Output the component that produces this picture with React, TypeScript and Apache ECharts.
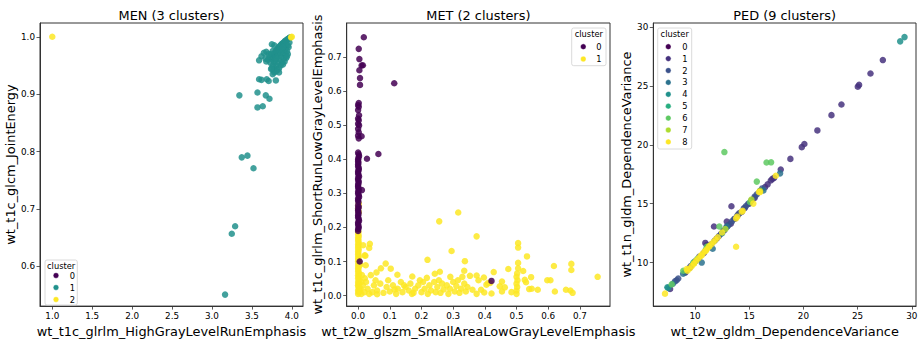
import React, { useEffect, useRef } from "react";
import * as echarts from "echarts";

// ---------------- DATA ----------------
// MEN panel: [HighGrayLevelRunEmphasis, JointEnergy]
const menCluster0: number[][] = [];
const menCluster1: number[][] = [
  [3.98, 0.999], [3.97, 0.998], [3.96, 0.997], [3.95, 0.996], [3.94, 0.995], [3.93, 0.994], [3.92, 0.993],
  [3.91, 0.992], [3.9, 0.99], [3.89, 0.989], [3.88, 0.988], [3.87, 0.987], [3.86, 0.985], [3.85, 0.984],
  [3.84, 0.982], [3.83, 0.98], [3.82, 0.979], [3.81, 0.977], [3.8, 0.975], [3.79, 0.973], [3.78, 0.97],
  [3.77, 0.968], [3.76, 0.965], [3.75, 0.962], [3.97, 0.99], [3.95, 0.985], [3.93, 0.98], [3.91, 0.975],
  [3.89, 0.97], [3.87, 0.965], [3.85, 0.96], [3.83, 0.955], [3.81, 0.95], [3.79, 0.945], [3.96, 0.982],
  [3.94, 0.975], [3.92, 0.968], [3.9, 0.962], [3.88, 0.955], [3.86, 0.95], [3.84, 0.945], [3.95, 0.97],
  [3.93, 0.963], [3.91, 0.957], [3.89, 0.952], [3.9, 0.985], [3.88, 0.98], [3.86, 0.975], [3.84, 0.97],
  [3.82, 0.965], [3.8, 0.96], [3.78, 0.955], [3.76, 0.95], [3.92, 0.987], [3.89, 0.982], [3.85, 0.978],
  [3.82, 0.972], [3.79, 0.966], [3.77, 0.958], [3.76, 0.975], [3.74, 0.97], [3.78, 0.985], [3.75, 0.987],
  [3.72, 0.965], [3.7, 0.96], [3.73, 0.955], [3.71, 0.97], [3.77, 0.942], [3.78, 0.938], [3.76, 0.935],
  [3.8, 0.94], [3.82, 0.942], [3.84, 0.938], [3.75, 0.945], [3.74, 0.944], [3.68, 0.974], [3.59, 0.959],
  [3.68, 0.957], [3.62, 0.966], [3.65, 0.972], [3.67, 0.962], [3.94, 0.966],
  [3.59, 0.926], [3.62, 0.925], [3.686, 0.926], [3.71, 0.923], [3.8, 0.924],
  [3.343, 0.898], [3.57, 0.903], [3.674, 0.898], [3.72, 0.892], [3.57, 0.877], [3.636, 0.879],
  [3.373, 0.79], [3.444, 0.793], [3.52, 0.771], [3.248, 0.657], [3.29, 0.67], [3.164, 0.551],
];
const menCluster2: number[][] = [[1.0, 1.0], [4.0, 1.0], [3.99, 0.999]];

// MET panel: [SmallAreaLowGrayLevelEmphasis, ShortRunLowGrayLevelEmphasis]
const metCluster0: number[][] = [
  [0.0, 0.19], [0.002, 0.2], [0.0, 0.21], [0.003, 0.22], [0.0, 0.23], [0.001, 0.24], [0.0, 0.25],
  [0.002, 0.26], [0.0, 0.28], [0.003, 0.29], [0.0, 0.3], [0.002, 0.31], [0.012, 0.31], [0.0, 0.32],
  [0.001, 0.33], [0.0, 0.34], [0.003, 0.35], [0.0, 0.36], [0.002, 0.37], [0.0, 0.38], [0.001, 0.39],
  [0.0, 0.4], [0.003, 0.41], [0.0, 0.42], [0.002, 0.415], [0.001, 0.405], [0.0, 0.395], [0.0, 0.385],
  [0.002, 0.375], [0.0, 0.365], [0.001, 0.355], [0.0, 0.345], [0.002, 0.335], [0.0, 0.325], [0.001, 0.315],
  [0.0, 0.305], [0.002, 0.295], [0.0, 0.285], [0.001, 0.275], [0.0, 0.265], [0.0, 0.255], [0.001, 0.245],
  [0.0, 0.235], [0.002, 0.225], [0.0, 0.215], [0.001, 0.205], [0.0, 0.195], [0.028, 0.402], [0.064, 0.416],
  [0.002, 0.462], [0.011, 0.468], [0.0, 0.47], [0.002, 0.48], [0.0, 0.49], [0.003, 0.5], [0.0, 0.505],
  [0.002, 0.515], [0.0, 0.52], [0.003, 0.53], [0.0, 0.545], [0.002, 0.555], [0.0, 0.56], [0.002, 0.566],
  [0.006, 0.619], [0.006, 0.639], [0.004, 0.662], [0.011, 0.676], [0.015, 0.677], [0.004, 0.695],
  [0.002, 0.725], [0.018, 0.759], [0.114, 0.624], [0.421, 0.043], [0.005, 0.1],
];
const metCluster1: number[][] = [
  [0.0, 0.005], [0.002, 0.01], [0.0, 0.015], [0.003, 0.02], [0.001, 0.025], [0.0, 0.03], [0.002, 0.035],
  [0.0, 0.04], [0.004, 0.045], [0.0, 0.05], [0.002, 0.055], [0.0, 0.06], [0.003, 0.065], [0.0, 0.07],
  [0.001, 0.075], [0.0, 0.08], [0.002, 0.085], [0.0, 0.09], [0.003, 0.095], [0.0, 0.1], [0.001, 0.105],
  [0.0, 0.11], [0.002, 0.115], [0.0, 0.12], [0.001, 0.125], [0.0, 0.13], [0.002, 0.135], [0.0, 0.14],
  [0.001, 0.145], [0.0, 0.15], [0.002, 0.155], [0.0, 0.16], [0.001, 0.165], [0.0, 0.17], [0.002, 0.175],
  [0.0, 0.18], [0.001, 0.185], [0.0, 0.19], [0.002, 0.245], [0.0, 0.255], [0.002, 0.27], [0.001, 0.262],
  [0.008, 0.02], [0.01, 0.04], [0.012, 0.06], [0.006, 0.09], [0.01, 0.005], [0.006, 0.012],
  [0.037, 0.152], [0.016, 0.148], [0.021, 0.118], [0.035, 0.14], [0.023, 0.117], [0.087, 0.094],
  [0.072, 0.08], [0.103, 0.079], [0.024, 0.089], [0.058, 0.068], [0.124, 0.061], [0.04, 0.06],
  [0.171, 0.056], [0.258, 0.07], [0.242, 0.064], [0.335, 0.073], [0.329, 0.055], [0.291, 0.055],
  [0.217, 0.052], [0.021, 0.051], [0.219, 0.105], [0.256, 0.218], [0.316, 0.244], [0.295, 0.131],
  [0.374, 0.174], [0.337, 0.101], [0.505, 0.154], [0.505, 0.141], [0.533, 0.115], [0.505, 0.096],
  [0.505, 0.08], [0.474, 0.078], [0.521, 0.072], [0.428, 0.069], [0.618, 0.087], [0.673, 0.093],
  [0.673, 0.075], [0.756, 0.055], [0.353, 0.058], [0.374, 0.059], [0.397, 0.053], [0.38, 0.045],
  [0.405, 0.032], [0.41, 0.037], [0.417, 0.037], [0.454, 0.041], [0.447, 0.027], [0.463, 0.024],
  [0.454, 0.012], [0.484, 0.01], [0.5, 0.005], [0.5, 0.015], [0.502, 0.025], [0.5, 0.035], [0.503, 0.045],
  [0.5, 0.055], [0.502, 0.065], [0.526, 0.046], [0.53, 0.039], [0.546, 0.054], [0.54, 0.019],
  [0.548, 0.02], [0.567, 0.017], [0.597, 0.045], [0.607, 0.045], [0.621, 0.012], [0.656, 0.017],
  [0.67, 0.015], [0.677, 0.008], [0.361, 0.017], [0.374, 0.005], [0.388, 0.017], [0.398, 0.009],
  [0.421, 0.006], [0.03, 0.02], [0.045, 0.01], [0.05, 0.03], [0.06, 0.015], [0.07, 0.035], [0.08, 0.008],
  [0.09, 0.025], [0.1, 0.012], [0.11, 0.03], [0.12, 0.005], [0.125, 0.02], [0.135, 0.04], [0.14, 0.01],
  [0.15, 0.025], [0.16, 0.015], [0.165, 0.035], [0.175, 0.008], [0.18, 0.02], [0.19, 0.03], [0.2, 0.01],
  [0.205, 0.04], [0.21, 0.02], [0.22, 0.005], [0.225, 0.03], [0.23, 0.015], [0.24, 0.04], [0.245, 0.01],
  [0.25, 0.025], [0.26, 0.008], [0.265, 0.035], [0.27, 0.018], [0.28, 0.03], [0.285, 0.005], [0.29, 0.02],
  [0.3, 0.04], [0.305, 0.012], [0.31, 0.028], [0.32, 0.008], [0.325, 0.02], [0.335, 0.035], [0.34, 0.012],
  [0.345, 0.025], [0.015, 0.03], [0.02, 0.01], [0.025, 0.04], [0.035, 0.005], [0.055, 0.045],
  [0.095, 0.045], [0.115, 0.018], [0.145, 0.03], [0.195, 0.045], [0.255, 0.045], [0.315, 0.045],
  [0.17, 0.005], [0.06, 0.004],
];

// PED panel: [t2w DependenceVariance, t1n DependenceVariance]
const pedCluster0: number[][] = [];
const pedCluster1: number[][] = [
  [17.91, 17.91], [18.8, 18.81], [19.85, 19.81], [20.09, 20.08], [21.29, 21.23], [22.59, 22.53],
  [23.51, 23.43], [25.02, 24.95], [25.14, 25.1], [26.19, 26.07], [27.33, 27.21], [16.99, 16.97],
  [17.14, 17.11], [16.46, 16.41], [13.36, 14.79], [11.75, 13.07], [12.93, 13.48], [10.95, 11.67],
  [11.08, 11.5], [17.3, 17.2], [15.0, 15.0], [14.6, 14.65], [14.3, 14.3], [13.7, 13.75], [13.3, 13.3],
  [13.0, 13.1], [12.7, 12.75], [12.4, 12.45], [12.0, 12.05], [11.5, 11.55], [10.8, 10.8], [10.3, 10.35],
  [9.5, 9.55], [9.1, 9.15], [7.7, 7.75], [16.0, 16.1], [15.5, 15.5], [14.0, 14.1], [16.7, 16.65],
];
const pedCluster2: number[][] = [
  [8.15, 8.4], [8.3, 8.5], [8.45, 8.65], [9.1, 9.2], [9.6, 9.7], [10.0, 10.1], [10.4, 10.5], [12.6, 12.7],
  [12.9, 13.0], [13.1, 13.2], [13.4, 13.5], [13.6, 13.7], [13.9, 14.0], [14.1, 14.2], [14.5, 14.6],
  [14.7, 14.8], [14.9, 15.0], [15.2, 15.3], [15.5, 15.6], [15.7, 15.8], [16.2, 16.3], [11.8, 11.85],
  [12.2, 12.25],
];
const pedCluster3: number[][] = [
  [10.62, 10.0], [11.63, 11.17], [16.31, 16.13], [17.85, 17.58], [12.93, 13.07], [8.9, 9.05], [7.95, 8.2],
];
const pedCluster4: number[][] = [[28.93, 28.8], [29.33, 29.16], [7.53, 7.85], [7.45, 7.9], [12.5, 12.5]];
const pedCluster5: number[][] = [[9.85, 10.0], [11.0, 11.1]];
const pedCluster6: number[][] = [
  [12.71, 19.39], [16.6, 18.5], [17.02, 18.52], [15.7, 16.88], [12.24, 13.07], [8.92, 9.3], [7.85, 8.15],
  [15.08, 15.15], [11.1, 11.35], [10.2, 10.3],
];
const pedCluster7: number[][] = [[9.9, 9.95], [11.3, 11.4], [12.8, 12.85], [15.2, 15.35], [16.0, 16.1]];
const pedCluster8: number[][] = [
  [9.3, 9.3], [9.5, 9.5], [9.7, 9.7], [9.9, 9.9], [10.1, 10.15], [10.3, 10.35], [10.5, 10.55],
  [10.7, 10.75], [10.9, 10.95], [11.1, 11.15], [11.3, 11.35], [11.5, 11.55], [11.7, 11.75], [11.9, 11.95],
  [12.1, 12.15], [10.6, 10.6], [11.0, 11.0], [9.23, 9.45], [12.5, 12.55], [13.79, 13.76], [13.9, 13.9],
  [14.31, 14.32], [14.4, 14.4], [15.38, 15.01], [15.9, 16.0], [16.0, 15.99], [17.45, 17.38],
  [13.79, 11.34], [7.23, 7.36],
];

// ticks
const menXTicks = [1.0, 1.5, 2.0, 2.5, 3.0, 3.5, 4.0];
const menYTicks = [0.6, 0.7, 0.8, 0.9, 1.0];
const metXTicks = [0.0, 0.1, 0.2, 0.3, 0.4, 0.5, 0.6, 0.7];
const metYTicks = [0.0, 0.1, 0.2, 0.3, 0.4, 0.5, 0.6, 0.7];
const pedXTicks = [10, 15, 20, 25, 30];
const pedYTicks = [10, 15, 20, 25, 30];

const titles = ["MEN (3 clusters)", "MET (2 clusters)", "PED (9 clusters)"];
const xNames = [
  "wt_t1c_glrlm_HighGrayLevelRunEmphasis",
  "wt_t2w_glszm_SmallAreaLowGrayLevelEmphasis",
  "wt_t2w_gldm_DependenceVariance",
];
const yNames = [
  "wt_t1c_glcm_JointEnergy",
  "wt_t1c_glrlm_ShortRunLowGrayLevelEmphasis",
  "wt_t1n_gldm_DependenceVariance",
];

const VIR3 = ["#440154", "#21918c", "#fde725"];
const VIR2 = ["#440154", "#fde725"];
const VIR9 = ["#440154", "#46327e", "#3b528b", "#2c728e", "#21918c", "#28ae80", "#5ec962", "#addc30", "#fde725"];

const FONT = "DejaVu Sans";

const grids = [
  { left: 40, top: 23, width: 263, height: 287 },
  { left: 346.7, top: 23, width: 263.3, height: 287 },
  { left: 653.3, top: 23, width: 262.7, height: 288 },
];

function makeX(i: number, min: number, max: number, ticks: number[], fmt: (v: number) => string) {
  return {
    type: "value", gridIndex: i, min, max,
    name: xNames[i], nameLocation: "middle", nameGap: 15,
    nameTextStyle: { fontSize: 12.9, color: "#000", fontFamily: FONT },
    axisLine: { show: true, onZero: false, lineStyle: { color: "#333", width: 1 } },
    axisTick: { show: true, length: 3.5, customValues: ticks, lineStyle: { color: "#333", width: 0.8 } },
    axisLabel: { customValues: ticks, formatter: fmt, fontSize: 8.8, color: "#000", fontFamily: FONT, margin: 5 },
    splitLine: { show: false },
  };
}
function makeY(i: number, min: number, max: number, ticks: number[], fmt: (v: number) => string, gap: number) {
  return {
    type: "value", gridIndex: i, min, max,
    name: yNames[i], nameLocation: "middle", nameGap: gap,
    nameTextStyle: { fontSize: 12.9, color: "#000", fontFamily: FONT },
    axisLine: { show: true, onZero: false, lineStyle: { color: "#333", width: 1 } },
    axisTick: { show: true, length: 3.5, customValues: ticks, lineStyle: { color: "#333", width: 0.8 } },
    axisLabel: { customValues: ticks, formatter: fmt, fontSize: 8.8, color: "#000", fontFamily: FONT, margin: 5 },
    splitLine: { show: false },
  };
}

function scatter(i: number, data: number[][], color: string) {
  return {
    type: "scatter", xAxisIndex: i, yAxisIndex: i, data, symbolSize: 6.5, silent: true,
    itemStyle: { color, opacity: 0.85 },
  };
}

function legendGraphic(x: number, y: number, w: number, h: number, labels: string[], colors: string[], cx: number, lx: number, y0: number, dy: number) {
  const children: any[] = [
    { type: "rect", shape: { x, y, width: w, height: h, r: 2 }, style: { fill: "rgba(255,255,255,0.8)", stroke: "#d0d0d0", lineWidth: 0.8 } },
    { type: "text", style: { x: x + w / 2, y: y + 6.3, text: "cluster", fontSize: 8.3, fontFamily: FONT, fill: "#000", align: "center", verticalAlign: "middle" } },
  ];
  labels.forEach((lab, k) => {
    children.push({ type: "circle", shape: { cx, cy: y0 + k * dy, r: 2.8 }, style: { fill: colors[k], stroke: "#fff", lineWidth: 0.4 } });
    children.push({ type: "text", style: { x: lx, y: y0 + k * dy, text: lab, fontSize: 8.3, fontFamily: FONT, fill: "#000", align: "center", verticalAlign: "middle" } });
  });
  return { type: "group", children };
}

export default function App() {
  const ref = useRef<HTMLDivElement>(null);
  useEffect(() => {
    if (!ref.current) return;
    const chart = echarts.init(ref.current, null, { renderer: "svg" });
    const f1 = (v: number) => v.toFixed(1);
    const f0 = (v: number) => String(Math.round(v));
    const titleGraphics = titles.map((t, i) => ({
      type: "text",
      style: {
        x: grids[i].left + grids[i].width / 2, y: 15, text: t, fontSize: 12.9, fontFamily: FONT,
        fill: "#000", align: "center", verticalAlign: "middle",
      },
    }));
    chart.setOption({
      animation: false,
      backgroundColor: "#fff",
      grid: grids.map((g) => ({ ...g, show: true, borderColor: "#333", borderWidth: 1, backgroundColor: "transparent" })),
      xAxis: [
        makeX(0, 0.846, 4.14, menXTicks, f1),
        makeX(1, -0.036, 0.795, metXTicks, f1),
        makeX(2, 6.15, 30.39, pedXTicks, f0),
      ],
      yAxis: [
        makeY(0, 0.531, 1.024, menYTicks, f1, 20),
        makeY(1, -0.031, 0.801, metYTicks, f1, 21),
        makeY(2, 6.3, 30.36, pedYTicks, f0, 20),
      ],
      series: [
        scatter(0, menCluster0, VIR3[0]),
        scatter(0, menCluster1, VIR3[1]),
        scatter(0, menCluster2, VIR3[2]),
        scatter(1, metCluster1, VIR2[1]),
        scatter(1, metCluster0, VIR2[0]),
        scatter(2, pedCluster0, VIR9[0]),
        scatter(2, pedCluster1, VIR9[1]),
        scatter(2, pedCluster2, VIR9[2]),
        scatter(2, pedCluster3, VIR9[3]),
        scatter(2, pedCluster4, VIR9[4]),
        scatter(2, pedCluster5, VIR9[5]),
        scatter(2, pedCluster6, VIR9[6]),
        scatter(2, pedCluster7, VIR9[7]),
        scatter(2, pedCluster8, VIR9[8]),
      ],
      graphic: [
        ...titleGraphics,
        legendGraphic(45, 260, 32.3, 45, ["0", "1", "2"], VIR3, 56, 72.5, 275.5, 12),
        legendGraphic(571.7, 28, 34.3, 37.7, ["0", "1"], VIR2, 583.3, 599, 46.7, 12.3),
        legendGraphic(657.7, 28, 34, 121, ["0", "1", "2", "3", "4", "5", "6", "7", "8"], VIR9, 668.3, 685, 46.7, 11.9),
      ],
    });
    return () => chart.dispose();
  }, []);
  return <div ref={ref} style={{ position: "fixed", left: 0, top: 0, width: 922, height: 343 }} />;
}
